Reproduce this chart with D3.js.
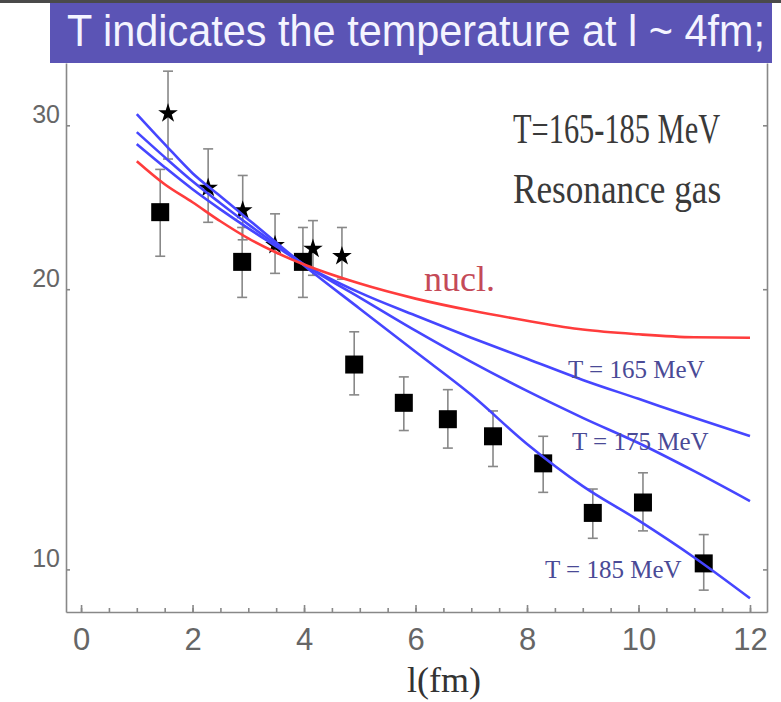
<!DOCTYPE html>
<html lang="en">
<head>
<meta charset="UTF-8">
<title>HBT radius vs l</title>
<style>
    body{ margin:0; background:#fff; }
    svg{ display:block; }
    .axis path,.axis line{ stroke:#888; stroke-width:1.6; fill:none; }
    .axis text{ font-family:"Liberation Sans",Arial,sans-serif; fill:#666; }
    .ebar{ stroke:#888; stroke-width:1.6; fill:none; }
    .curve{ fill:none; stroke-width:2.6; }
    .serif{ font-family:"Liberation Serif","Times New Roman",serif; }
</style>
<script src="https://cdnjs.cloudflare.com/ajax/libs/d3/7.8.5/d3.min.js"></script>
</head>
<body>
<script>
// model curves, sampled at these l values (fm)
var lGrid = [1, 1.5, 2, 2.5, 3, 3.5, 4, 5, 6, 7, 8, 9, 10, 11, 12];
var nucl  = [27.45, 25.93, 24.80, 23.66, 22.68, 21.90, 21.26, 20.28, 19.54, 18.97, 18.50, 18.10, 17.89, 17.76, 17.74];
var t165  = [28.64, 27.05, 25.61, 24.37, 23.25, 22.23, 21.26, 19.83, 18.74, 17.74, 16.84, 15.98, 15.25, 14.55, 13.91];
var t175  = [29.50, 27.73, 26.12, 24.74, 23.48, 22.34, 21.26, 19.59, 18.05, 16.71, 15.55, 14.55, 13.67, 12.75, 11.84];
var t185  = [30.85, 28.64, 26.65, 25.17, 23.77, 22.45, 21.21, 19.06, 17.13, 15.40, 13.64, 12.29, 11.29, 10.30, 9.31];

// data: stars
var starL  = [1.56, 2.28, 2.90, 3.48, 4.16, 4.68];
var starV  = [30.9, 25.7, 24.3, 22.3, 22.1, 21.7];
var starLo = [27.6, 23.6, 22.6, 20.8, 20.7, 20.5];
var starHi = [34.3, 28.3, 26.5, 24.1, 23.7, 23.3];

// data: squares
var sqL  = [1.42, 2.89, 3.98, 4.90, 5.79, 6.58, 7.39, 8.29, 9.18, 10.08, 11.17];
var sqV  = [24.2, 21.4, 21.4, 16.6, 15.1, 14.5, 13.9, 13.0, 11.5, 11.8, 10.15];
var sqLo = [21.7, 19.6, 19.6, 15.4, 14.1, 13.5, 12.9, 12.1, 10.8, 11.0, 9.5];
var sqHi = [26.9, 23.3, 23.3, 18.0, 16.1, 15.6, 14.8, 13.9, 12.2, 12.7, 10.9];

var xTicks = [0, 2, 4, 6, 8, 10, 12];
var xMinor = d3.range(0, 12.01, 0.5);
var yTicks = [10, 20, 30];

var width = 781, height = 702;
var plot = {left:66, right:767, top:63, bottom:612};

var svg = d3.select("body").append("svg")
        .attr("width", width)
        .attr("height", height);

// scales
var x = d3.scaleLinear()
        .domain([-0.27, 12.305])
        .range([plot.left, plot.right]);
var y = d3.scaleLog()
        .domain([9, 35])
        .range([plot.bottom, plot.top]);

// axes
svg.append("g")
        .attr("class","axis")
        .attr("transform","translate(0," + plot.bottom + ")")
        .call(d3.axisBottom(x).tickValues(xMinor).tickSize(-4).tickSizeOuter(0).tickFormat(""));
var xa = svg.append("g")
        .attr("class","axis")
        .attr("transform","translate(0," + plot.bottom + ")")
        .call(d3.axisBottom(x).tickValues(xTicks).tickSize(-7).tickSizeOuter(0).tickPadding(16));
xa.select(".domain").remove();
xa.selectAll("text").style("font-size","31px").attr("fill","#555");

var ya = svg.append("g")
        .attr("class","axis")
        .attr("transform","translate(" + plot.left + ",0)")
        .call(d3.axisLeft(y).tickValues(yTicks).tickFormat(d3.format("d")).tickSize(-4).tickSizeOuter(0).tickPadding(6));
ya.selectAll("text").style("font-size","25px").attr("dy","-0.12em").attr("fill","#888");

svg.append("g")
        .attr("class","axis")
        .attr("transform","translate(" + plot.right + ",0)")
        .call(d3.axisRight(y).tickValues(yTicks).tickFormat("").tickSize(-4).tickSizeOuter(0));

// error bars
function errorBars(ls, lo, hi){
    var g = svg.append("g");
    g.selectAll("line.v").data(ls).enter().append("line")
            .attr("class","ebar")
            .attr("x1",function(d){return x(d);})
            .attr("x2",function(d){return x(d);})
            .attr("y1",function(d,i){return y(lo[i]);})
            .attr("y2",function(d,i){return y(hi[i]);});
    [lo, hi].forEach(function(arr){
        g.selectAll(null).data(ls).enter().append("line")
                .attr("class","ebar")
                .attr("x1",function(d){return x(d) - 5;})
                .attr("x2",function(d){return x(d) + 5;})
                .attr("y1",function(d,i){return y(arr[i]);})
                .attr("y2",function(d,i){return y(arr[i]);});
    });
}
errorBars(starL, starLo, starHi);
errorBars(sqL, sqLo, sqHi);

// markers
svg.selectAll(".star").data(starL).enter().append("path")
        .attr("class","star")
        .attr("d", d3.symbol().type(d3.symbolStar).size(120))
        .attr("transform",function(d,i){return "translate(" + x(d) + "," + y(starV[i]) + ")";})
        .attr("fill","#000");
svg.selectAll(".sq").data(sqL).enter().append("rect")
        .attr("class","sq")
        .attr("x",function(d){return x(d) - 9;})
        .attr("y",function(d,i){return y(sqV[i]) - 9;})
        .attr("width",18)
        .attr("height",18)
        .attr("fill","#000");

// curves
var line = d3.line()
        .x(function(d,i){return x(lGrid[i]);})
        .y(function(d){return y(d);})
        .curve(d3.curveMonotoneX);
[t165, t175, t185].forEach(function(s){
    svg.append("path").attr("class","curve").attr("d",line(s)).attr("stroke","#4646ff");
});
svg.append("path").attr("class","curve").attr("d",line(nucl)).attr("stroke","#ff3c3c");

// labels (tall narrow serif: font size sets width, sy stretches height)
function label(txt, x0, yb, size, sy, color){
    svg.append("text")
            .attr("class","serif")
            .attr("transform","translate(" + x0 + "," + yb + ") scale(1," + sy + ")")
            .style("font-size",size + "px")
            .attr("fill",color)
            .text(txt);
}
label("T=165-185 MeV", 513, 143, 30.4, 1.42, "#3a3a3a");
label("Resonance gas", 513, 203, 35.2, 1.19, "#3a3a3a");
label("nucl.", 424, 291, 36, 1, "#c44a58");
label("T = 165 MeV", 568, 378, 25, 1, "#4a4a96");
label("T = 175 MeV", 572, 450, 25, 1, "#4a4a96");
label("T = 185 MeV", 545, 578, 25, 1, "#4a4a96");

svg.append("text")
        .attr("class","serif")
        .attr("x",444).attr("y",692)
        .attr("text-anchor","middle")
        .style("font-size","36px")
        .attr("fill","#333")
        .text("l(fm)");

// title banner
svg.append("rect").attr("x",0).attr("y",0).attr("width",width).attr("height",3).attr("fill","#4a4a4a");
svg.append("rect").attr("x",50).attr("y",3).attr("width",722).attr("height",60).attr("fill","#5b54b5");
svg.append("text")
        .attr("transform","translate(67,46) scale(1,1.07)")
        .attr("textLength",698).attr("lengthAdjust","spacingAndGlyphs")
        .style("font-family","'Liberation Sans',Arial,sans-serif")
        .style("font-size","41px")
        .attr("fill","#f4f4ff")
        .text("T indicates the temperature at l ~ 4fm;");
</script>
</body>
</html>
